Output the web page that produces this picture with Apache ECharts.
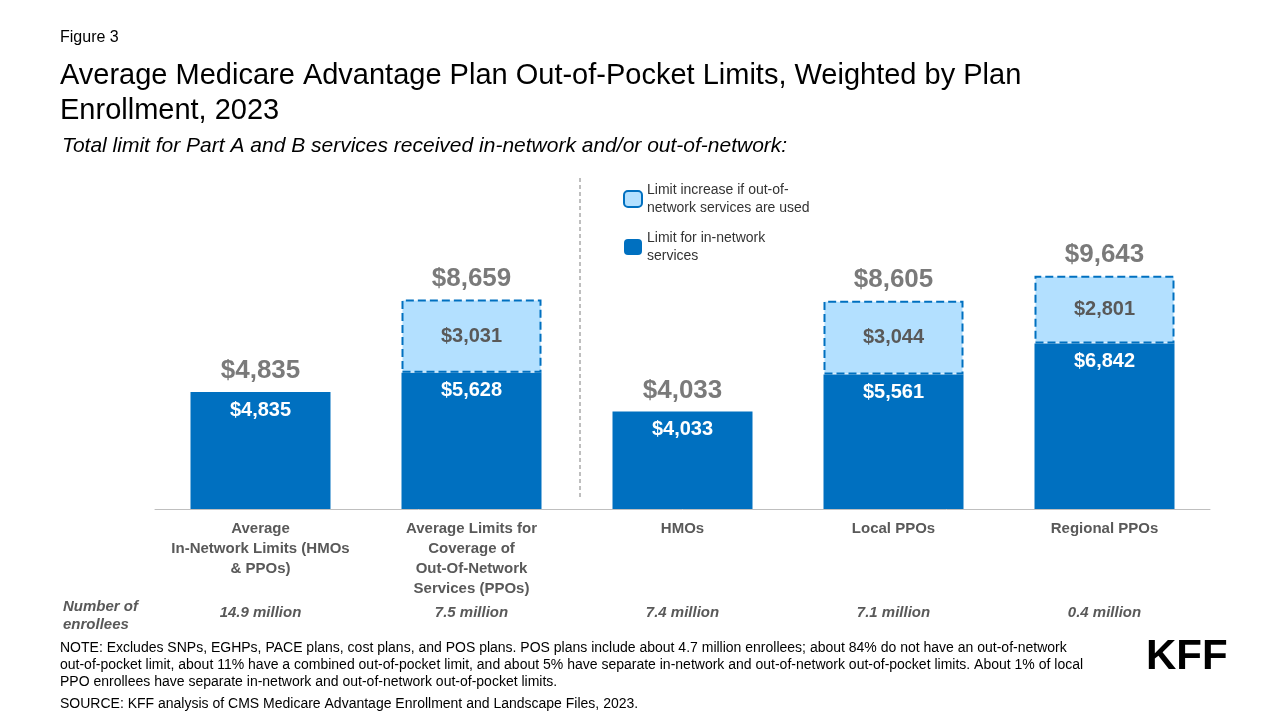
<!DOCTYPE html>
<html><head><meta charset="utf-8">
<script src="https://cdn.jsdelivr.net/npm/echarts@6/dist/echarts.min.js"></script>
<style>body{margin:0;background:#fff}#c{width:1280px;height:720px}</style></head>
<body><div id="c"></div>
<script>
const categories = ['Average\nIn-Network Limits (HMOs\n& PPOs)','Average Limits for\nCoverage of\nOut-Of-Network\nServices (PPOs)','HMOs','Local PPOs','Regional PPOs'];
const inNetwork = [4835, 5628, 4033, 5561, 6842];
const outIncrease = [null, 3031, null, 3044, 2801];
const totals = [4835, 8659, 4033, 8605, 9643];
const enrollees = ['14.9 million','7.5 million','7.4 million','7.1 million','0.4 million'];
const fmt = v => '$' + v.toLocaleString('en-US');
const F = 'Arial, Liberation Sans, sans-serif';
const chart = echarts.init(document.getElementById('c'));
chart.setOption({
  animation:false,
  textStyle:{fontFamily:F},
  grid:{left:155,right:70,top:267,bottom:211},
  legend:{orient:'vertical',left:618,top:176,itemWidth:18,itemHeight:16,itemGap:12,
    textStyle:{fontSize:14,color:'#333',fontFamily:F,lineHeight:18},
    data:[{name:'Limit increase if out-of-\nnetwork services are used'},{name:'Limit for in-network\nservices'}]},
  xAxis:[{type:'category',data:categories,axisTick:{show:false},
    axisLine:{lineStyle:{color:'#bfbfbf'}},
    axisLabel:{interval:0,fontSize:15,fontWeight:'bold',color:'#595959',lineHeight:20,margin:10}},
    {type:'category',data:enrollees,position:'bottom',offset:88,axisLine:{show:false},axisTick:{show:false},
    axisLabel:{interval:0,fontSize:15,fontStyle:'italic',fontWeight:'bold',color:'#595959'}}],
  yAxis:{type:'value',min:0,max:10000,show:false},
  series:[
    {name:'Limit for in-network\nservices',type:'bar',stack:'a',data:inNetwork,barWidth:140,
     itemStyle:{color:'#0070c0'},
     label:{show:true,position:'insideTop',distance:8,color:'#fff',fontSize:20,fontWeight:'bold',formatter:p=>fmt(p.value)}},
    {name:'Limit increase if out-of-\nnetwork services are used',type:'bar',stack:'a',data:outIncrease,barWidth:140,
     itemStyle:{color:'#b3e0ff',borderColor:'#0070c0',borderWidth:2,borderType:'dashed'},
     label:{show:true,position:'inside',color:'#595959',fontSize:20,fontWeight:'bold',formatter:p=>fmt(p.value)}},
    {type:'scatter',data:totals,symbolSize:0,silent:true,
     label:{show:true,position:'top',distance:8,color:'#595959',fontSize:26,fontWeight:'bold',formatter:p=>fmt(p.value)}}
  ],
  graphic:[
    {type:'text',left:60,top:30,style:{text:'Figure 3',fontSize:16,fill:'#000',fontFamily:F}},
    {type:'text',left:60,top:58,style:{text:'Average Medicare Advantage Plan Out-of-Pocket Limits, Weighted by Plan\nEnrollment, 2023',fontSize:29,lineHeight:35,fill:'#000',fontFamily:F}},
    {type:'text',left:62,top:136,style:{text:'Total limit for Part A and B services received in-network and/or out-of-network:',fontSize:21,fontStyle:'italic',fill:'#000',fontFamily:F}},
    {type:'line',shape:{x1:580,y1:178,x2:580,y2:500},style:{stroke:'#7f7f7f',lineWidth:1,lineDash:[4,3]}},
    {type:'text',left:63,top:598,style:{text:'Number of\nenrollees',fontSize:15,fontStyle:'italic',fontWeight:'bold',fill:'#595959',lineHeight:18,fontFamily:F}},
    {type:'text',left:60,top:640,style:{text:'NOTE: Excludes SNPs, EGHPs, PACE plans, cost plans, and POS plans. POS plans include about 4.7 million enrollees; about 84% do not have an out-of-network\nout-of-pocket limit, about 11% have a combined out-of-pocket limit, and about 5% have separate in-network and out-of-network out-of-pocket limits. About 1% of local\nPPO enrollees have separate in-network and out-of-network out-of-pocket limits.',fontSize:14,lineHeight:17,fill:'#000',fontFamily:F}},
    {type:'text',left:60,top:697,style:{text:'SOURCE: KFF analysis of CMS Medicare Advantage Enrollment and Landscape Files, 2023.',fontSize:14,fill:'#000',fontFamily:F}},
    {type:'text',left:1146,top:636,style:{text:'KFF',fontSize:42,fontWeight:'bold',fill:'#000',fontFamily:F}}
  ]
});
</script></body></html>
